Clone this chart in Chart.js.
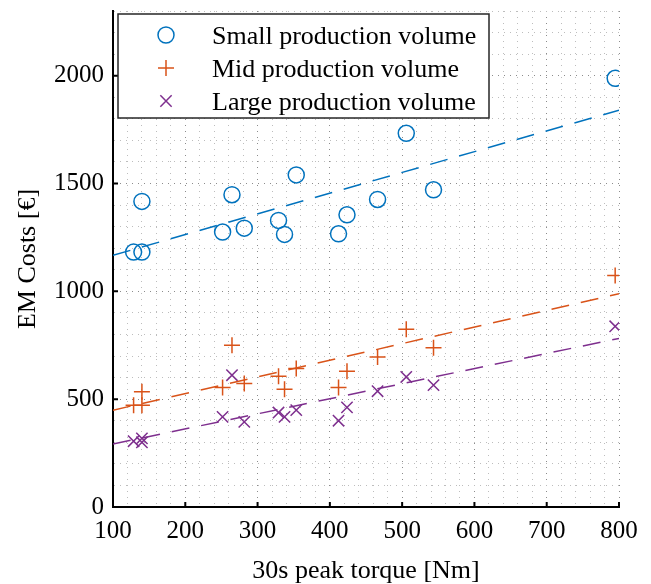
<!DOCTYPE html>
<html lang="en">

<head>
    <meta charset="UTF-8">
    <title>EM Costs vs 30s peak torque</title>
    <style>
        body {
            margin: 0;
            background: #fff;
        }

        .chart-box {
            width: 651px;
            height: 584px;
        }
    </style>
</head>

<body>
    <div class="chart-box">
        <canvas id="costChart" width="651" height="584"></canvas>
    </div>
    <script src="https://cdn.jsdelivr.net/npm/chart.js"></script>
    <script>
        // data
        const torque = [128.5, 140, 140, 251.6, 264.6, 281.6, 329, 337.3, 353.5, 412, 423.7, 466, 505.7, 543.4, 794.7];
        const smallCost = [1182, 1182, 1417, 1275, 1448, 1293, 1329, 1264, 1540, 1267, 1355, 1426, 1733, 1471, 1988];
        const midCost = [472, 472, 534, 554, 750, 573, 606, 546, 642, 554, 630, 696, 824, 739, 1074];
        const largeCost = [305, 300, 318, 418, 611, 395, 438, 418, 449, 400, 462, 537, 603, 565, 838];

        // dashed fit lines (ends at x = 100 and x = 800)
        const fitX = [100, 800];
        const smallFit = [1167, 1840];
        const midFit = [449, 989];
        const largeFit = [292, 782];

        const seriesNames = ['Small production volume', 'Mid production volume', 'Large production volume'];
        const xTicks = [100, 200, 300, 400, 500, 600, 700, 800];
        const yTicks = [0, 500, 1000, 1500, 2000];

        const colors = ['#0072BD', '#D95319', '#7E2F8E'];
        const markers = ['circle', 'cross', 'crossRot'];
        const serif = "'Liberation Serif', 'Times New Roman', serif";

        const toPoints = (xs, ys) => xs.map((x, i) => ({ x: x, y: ys[i] }));

        function scatterSet(label, ys, i) {
            return {
                type: 'scatter',
                label: label,
                data: toPoints(torque, ys),
                pointStyle: markers[i],
                pointRadius: 8,
                pointHoverRadius: 8,
                borderWidth: 1.5,
                borderColor: colors[i],
                backgroundColor: 'rgba(0,0,0,0)'
            };
        }

        function fitSet(ys, i) {
            return {
                type: 'line',
                data: toPoints(fitX, ys),
                borderColor: colors[i],
                borderWidth: 1.5,
                borderDash: [18, 12],
                pointRadius: 0,
                fill: false
            };
        }

        // legend box inside the plot, MATLAB style
        const boxLegend = {
            id: 'boxLegend',
            afterDraw(chart) {
                const ctx = chart.ctx;
                const left = 118, top = 14, w = 371, h = 104;
                ctx.save();
                ctx.fillStyle = '#fff';
                ctx.fillRect(left, top, w, h);
                ctx.strokeStyle = '#262626';
                ctx.lineWidth = 1.5;
                ctx.strokeRect(left, top, w, h);
                ctx.font = '26px ' + serif;
                ctx.textBaseline = 'middle';
                seriesNames.forEach((name, i) => {
                    const cx = 166, cy = 35 + i * 33, r = 8;
                    ctx.strokeStyle = colors[i];
                    ctx.lineWidth = 1.5;
                    ctx.beginPath();
                    if (i === 0) {
                        ctx.arc(cx, cy, r, 0, Math.PI * 2);
                    } else if (i === 1) {
                        ctx.moveTo(cx - r, cy); ctx.lineTo(cx + r, cy);
                        ctx.moveTo(cx, cy - r); ctx.lineTo(cx, cy + r);
                    } else {
                        const d = r * 0.707;
                        ctx.moveTo(cx - d, cy - d); ctx.lineTo(cx + d, cy + d);
                        ctx.moveTo(cx - d, cy + d); ctx.lineTo(cx + d, cy - d);
                    }
                    ctx.stroke();
                    ctx.fillStyle = '#000';
                    ctx.fillText(name, 212, cy + 2);
                });
                ctx.restore();
            }
        };

        // short inward tick marks on the two axes
        const innerTicks = {
            id: 'innerTicks',
            afterDatasetsDraw(chart) {
                const ctx = chart.ctx;
                const xs = chart.scales.x, ys = chart.scales.y;
                const a = chart.chartArea;
                ctx.save();
                ctx.strokeStyle = '#000';
                ctx.lineWidth = 2;
                ctx.beginPath();
                xTicks.forEach(v => {
                    const px = xs.getPixelForValue(v);
                    ctx.moveTo(px, a.bottom); ctx.lineTo(px, a.bottom - 5);
                });
                yTicks.forEach(v => {
                    const py = ys.getPixelForValue(v);
                    ctx.moveTo(a.left, py); ctx.lineTo(a.left + 5, py);
                });
                ctx.stroke();
                ctx.restore();
            }
        };

        const gridColor = (ctx, major) =>
            ctx.tick && ctx.tick.value % major === 0 ? '#8c8c8c' : '#bdbdbd';

        new Chart(document.getElementById('costChart'), {
            data: {
                datasets: [
                    fitSet(smallFit, 0),
                    fitSet(midFit, 1),
                    fitSet(largeFit, 2),
                    scatterSet(seriesNames[0], smallCost, 0),
                    scatterSet(seriesNames[1], midCost, 1),
                    scatterSet(seriesNames[2], largeCost, 2)
                ]
            },
            options: {
                responsive: false,
                animation: false,
                events: [],
                layout: {
                    padding: { top: 11, right: 32, left: 0, bottom: 0 }
                },
                plugins: {
                    legend: { display: false },
                    tooltip: { enabled: false }
                },
                scales: {
                    x: {
                        type: 'linear',
                        min: 100,
                        max: 800,
                        afterFit: s => { s.height = 77; },
                        ticks: {
                            stepSize: 20,
                            autoSkip: false,
                            maxRotation: 0,
                            padding: 9,
                            color: '#000',
                            font: { family: serif, size: 25 },
                            callback: v => (v % 100 === 0 ? v : '')
                        },
                        grid: {
                            drawTicks: false,
                            color: c => gridColor(c, 100),
                            lineWidth: 1
                        },
                        border: { display: true, color: '#000', width: 2, dash: [1, 5] },
                        title: {
                            display: true,
                            text: '30s peak torque [Nm]',
                            color: '#000',
                            font: { family: serif, size: 26, lineHeight: 1 },
                            padding: { top: 0, bottom: 0 }
                        }
                    },
                    y: {
                        type: 'linear',
                        min: 0,
                        max: 2300,
                        afterFit: s => {
                            s.width = 113;
                            s.paddingTop = 0;
                            s.paddingBottom = 0;
                        },
                        ticks: {
                            stepSize: 100,
                            autoSkip: false,
                            padding: 9,
                            color: '#000',
                            font: { family: serif, size: 25 },
                            callback: v => (v % 500 === 0 ? v : '')
                        },
                        grid: {
                            drawTicks: false,
                            color: c => gridColor(c, 500),
                            lineWidth: 1
                        },
                        border: { display: true, color: '#000', width: 2, dash: [1, 5] },
                        title: {
                            display: true,
                            text: 'EM Costs [€]',
                            color: '#000',
                            font: { family: serif, size: 26, lineHeight: 1 },
                            padding: { top: 15, bottom: 0 }
                        }
                    }
                }
            },
            plugins: [innerTicks, boxLegend]
        });
    </script>
</body>
</html>
